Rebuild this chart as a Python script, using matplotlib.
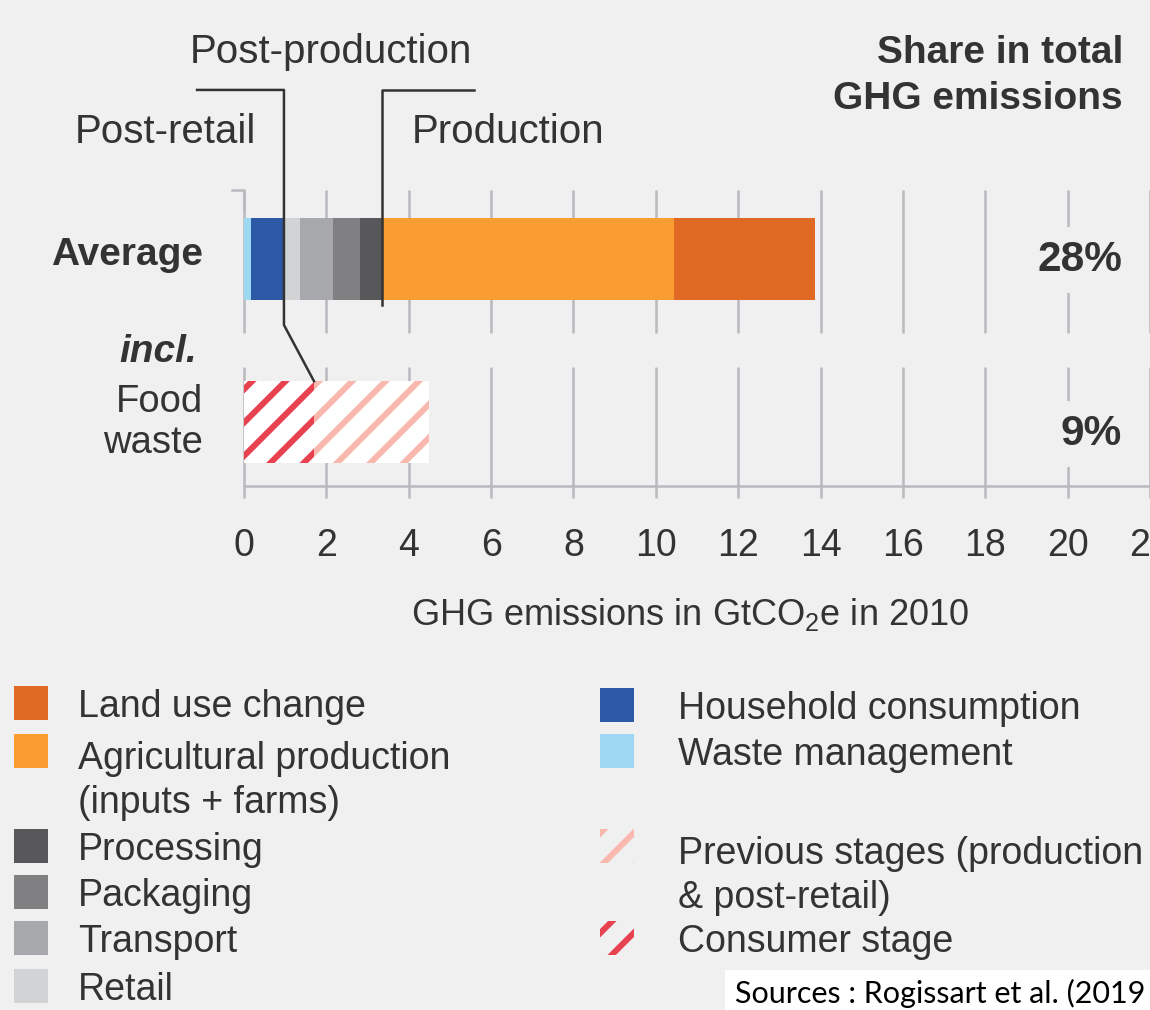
"""GHG emissions of the food system by stage, 2010 (after Rogissart et al. 2019)."""

import matplotlib
matplotlib.use("Agg")
import matplotlib.pyplot as plt
from matplotlib.patches import Rectangle
import numpy as np

# --- values (GtCO2e in 2010), stacked from the left ----------------------------
STAGES = ["Waste management", "Household consumption", "Retail", "Transport",
          "Packaging", "Processing", "Agricultural production\n(inputs + farms)",
          "Land use change"]
AVERAGE = [0.17, 0.80, 0.39, 0.80, 0.66, 0.53, 7.09, 3.42]

WASTE_PARTS = ["Consumer stage", "Previous stages (production\n& post-retail)"]
FOOD_WASTE = [1.70, 2.80]

SHARES = ["28%", "9%"]
XTICKS = list(range(0, 23, 2))

# --- styling -----------------------------------------------------------------
BG = "#f0f0f0"
INK = "#333333"
GRID = "#b9b9be"
STAGE_COLORS = {
    "Waste management": "#9dd8f3",
    "Household consumption": "#2d58a5",
    "Retail": "#d2d3d5",
    "Transport": "#a7a8ab",
    "Packaging": "#808082",
    "Processing": "#58585a",
    "Agricultural production\n(inputs + farms)": "#f99d33",
    "Land use change": "#e06a24",
}
WASTE_COLORS = {"Consumer stage": "#e8414f",
                "Previous stages (production\n& post-retail)": "#f8b8ad"}

W, H = 1150, 1010
LEG_FS, LEG_LS = 27, 1.27          # legend font size / line spacing
LINE_PX = LEG_FS * 100 / 72 * LEG_LS
plt.rcParams["font.family"] = ["Liberation Sans", "DejaVu Sans"]
plt.rcParams["mathtext.fontset"] = "custom"
plt.rcParams["mathtext.rm"] = "Liberation Sans"
plt.rcParams["mathtext.default"] = "regular"
plt.rcParams["hatch.linewidth"] = 4.3

fig = plt.figure(figsize=(W / 100, H / 100), dpi=100, facecolor=BG)


def px(x, y):
    """pixel position (from top-left) -> figure fraction"""
    return x / W, 1 - y / H


# axes: x=0 at px 244, x=22 at right edge; baseline at px 486
ax = fig.add_axes([244 / W, 1 - 486 / H, (W - 244) / W, 325 / H], facecolor=BG)
ax.set_xlim(0, 22)
Y_LO, Y_HI = -0.393, 1.601
ax.set_ylim(Y_LO, Y_HI)
Y_AVG, Y_FW, BAR_H = 1.0, 0.0, 0.5

# vertical gridlines, broken between the two rows
ax.vlines(XTICKS, 0.546, 1.423, color=GRID, lw=1.8, zorder=1, clip_on=False)
ax.vlines(XTICKS, Y_LO, 0.337, color=GRID, lw=1.8, zorder=1, clip_on=False)
ax.plot([-0.29, 0, 0], [1.423, 1.423, 1.30], color=GRID, lw=1.8, clip_on=False, zorder=1)

# average bar
left = np.concatenate([[0], np.cumsum(AVERAGE)[:-1]])
ax.barh(Y_AVG, AVERAGE, left=left, height=BAR_H,
        color=[STAGE_COLORS[s] for s in STAGES], lw=0, zorder=3)

# food-waste bar (hatched)
fw_left = np.concatenate([[0], np.cumsum(FOOD_WASTE)[:-1]])
for name, w, l in zip(WASTE_PARTS, FOOD_WASTE, fw_left):
    ax.barh(Y_FW, w, left=l, height=BAR_H, facecolor="white",
            edgecolor=WASTE_COLORS[name], hatch="/", lw=0, zorder=3)

# axis
for s in ["top", "right", "left"]:
    ax.spines[s].set_visible(False)
ax.spines["bottom"].set_color(GRID)
ax.spines["bottom"].set_linewidth(1.8)
ax.set_yticks([])
ax.set_xticks(XTICKS)
ax.set_xticklabels([str(t) for t in XTICKS], fontsize=27, color=INK)
ax.tick_params(axis="x", length=8.6, width=1.8, color=GRID, pad=22)

# stage brackets
hh_end = left[2]                 # household | retail boundary
prod_start = left[6]             # production starts at agriculture
cons_end = FOOD_WASTE[0]
ax.plot([-1.14, hh_end, hh_end, cons_end], [2.037, 2.037, 0.595, Y_FW + BAR_H / 2],
        color=INK, lw=1.8, clip_on=False, zorder=5)
ax.plot([5.58, prod_start, prod_start], [2.037, 2.037, 0.72],
        color=INK, lw=1.8, clip_on=False, zorder=5)

# share labels (they sit on the gridline at 20, masking it)
for ybase, s in zip([271, 445], SHARES):
    fig.text(*px(1122, ybase), s, fontsize=30.5, fontweight="bold", color=INK,
             ha="right", va="baseline",
             bbox=dict(boxstyle="square,pad=0.3", fc=BG, ec="none"))

# text
fig.text(*px(190, 63), "Post-production", fontsize=29, color=INK, va="baseline")
fig.text(*px(75, 143), "Post-retail", fontsize=29, color=INK, va="baseline")
fig.text(*px(412, 143), "Production", fontsize=29, color=INK, va="baseline")
fig.text(*px(1123, 63), "Share in total", fontsize=28, fontweight="bold", color=INK,
         ha="right", va="baseline")
fig.text(*px(1123, 109), "GHG emissions", fontsize=28, fontweight="bold", color=INK,
         ha="right", va="baseline")
fig.text(*px(203, 265), "Average", fontsize=28, fontweight="bold", color=INK,
         ha="right", va="baseline")
fig.text(*px(197, 362), "incl.", fontsize=28, fontweight="bold", style="italic",
         color=INK, ha="right", va="baseline")
fig.text(*px(203, 412), "Food", fontsize=27.5, color=INK, ha="right", va="baseline")
fig.text(*px(203, 453), "waste", fontsize=27.5, color=INK, ha="right", va="baseline")
fig.text(*px(690, 625), "GHG emissions in GtCO$_2$e in 2010", fontsize=26, color=INK,
         ha="center", va="baseline")


# legend, drawn by hand (two columns, uneven rows)
def legend_entry(x, xt, yc, name, color, hatched):
    if hatched:
        patch = Rectangle(px(x, yc + 17), 34 / W, 34 / H, transform=fig.transFigure,
                          fc=BG, ec=color, hatch="/", lw=0)
    else:
        patch = Rectangle(px(x, yc + 17), 34 / W, 34 / H, transform=fig.transFigure,
                          fc=color, lw=0)
    fig.add_artist(patch)
    # multi-line text: 'baseline' aligns the last line
    base = yc + 14 + LINE_PX * name.count("\n")
    fig.text(*px(xt, base), name, fontsize=LEG_FS, color=INK, va="baseline",
             linespacing=LEG_LS)


left_col = [("Land use change", 703), ("Agricultural production\n(inputs + farms)", 751),
            ("Processing", 846), ("Packaging", 892), ("Transport", 938), ("Retail", 986)]
right_col = [("Household consumption", 705), ("Waste management", 751)]
hatch_col = [("Previous stages (production\n& post-retail)", 846), ("Consumer stage", 938)]
for name, yc in left_col:
    legend_entry(14, 78, yc, name, STAGE_COLORS[name], False)
for name, yc in right_col:
    legend_entry(600, 678, yc, name, STAGE_COLORS[name], False)
for name, yc in hatch_col:
    legend_entry(600, 678, yc, name, WASTE_COLORS[name], True)

# source
fig.add_artist(Rectangle(px(725, H), (W - 725) / W, 40 / H, transform=fig.transFigure,
                         fc="white", lw=0))
fig.text(*px(735, 1003), "Sources : Rogissart et al. (2019", fontsize=22, color="black",
         family=["Lato", "DejaVu Sans"], va="baseline")

fig.savefig("out.png", dpi=100, facecolor=BG)
